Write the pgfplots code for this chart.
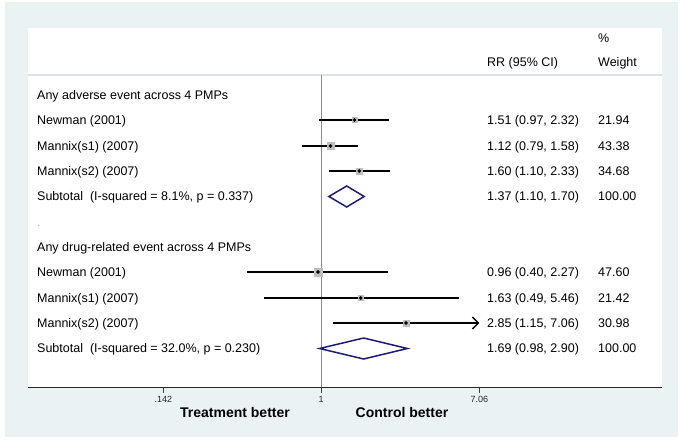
\documentclass[border=0pt]{standalone}
\usepackage{pgfplots}
\pgfplotsset{compat=1.18}
\usepackage{fontspec}
\setmainfont{Liberation Sans}
\usetikzlibrary{arrows.meta}
\definecolor{bgout}{RGB}{234,242,243}
\definecolor{sepc}{RGB}{222,226,228}
\definecolor{diam}{RGB}{25,30,115}
\definecolor{sqc}{RGB}{190,190,190}
\begin{document}
\begin{tikzpicture}
\begin{scope}[x=1bp,y=-1bp,shift={(0bp,445bp)}]
  \fill[white] (0,0) rectangle (685,445);
  \fill[bgout] (5,2) rectangle (678,437);
  \fill[white] (28,28) rectangle (662,387);
  \draw[sepc, line width=1.5bp] (28,75) -- (662,75);
\end{scope}
\begin{axis}[
  at={(28bp,58bp)}, anchor=south west,
  scale only axis, width=634bp, height=359bp,
  xmode=log, xmin=0.02665, xmax=67.56,
  ymin=28, ymax=387, y dir=reverse,
  axis x line*=bottom, axis y line=none,
  x axis line style={-, draw=black!85, line width=0.8bp},
  xtick={0.142,1,7.06}, xticklabels={.142,1,7.06},
  xminorticks=false,
  tick align=outside, major tick length=6bp,
  tick style={black!75, line width=0.8bp},
  xticklabel style={font=\fontsize{9bp}{10bp}\selectfont, text=black!85},
  clip=false,
]
% line of no effect
\addplot[draw=black!45, line width=0.9bp] coordinates {(1,75) (1,387)};
% confidence intervals
\addplot[black, line width=1.6bp] coordinates {(0.97,120) (2.32,120)};
\addplot[black, line width=1.6bp] coordinates {(0.79,146) (1.58,146)};
\addplot[black, line width=1.6bp] coordinates {(1.10,171) (2.33,171)};
\addplot[black, line width=1.6bp] coordinates {(0.40,272) (2.27,272)};
\addplot[black, line width=1.6bp] coordinates {(0.49,298) (5.46,298)};
\addplot[black, line width=1.6bp, -{Straight Barb[length=6bp,width=12bp,line width=1.4bp]}] coordinates {(1.15,323) (7.06,323)};
% weight squares
\addplot[sqc, only marks, mark=square*, mark size=2.6bp] coordinates {(1.51,120)};
\addplot[sqc, only marks, mark=square*, mark size=3.6bp] coordinates {(1.12,146)};
\addplot[sqc, only marks, mark=square*, mark size=3.2bp] coordinates {(1.60,171)};
\addplot[sqc, only marks, mark=square*, mark size=3.8bp] coordinates {(0.96,272)};
\addplot[sqc, only marks, mark=square*, mark size=2.5bp] coordinates {(1.63,298)};
\addplot[sqc, only marks, mark=square*, mark size=3.1bp] coordinates {(2.85,323)};
% point estimates
\addplot[black, only marks, mark=*, mark size=1.6bp] coordinates {(1.51,120) (1.12,146) (1.60,171) (0.96,272) (1.63,298) (2.85,323)};
% pooled diamonds
\addplot[diam, line width=1.5bp, line join=miter] coordinates {(1.10,196.5) (1.37,186) (1.70,196.5) (1.37,207)} -- cycle;
\addplot[diam, line width=1.5bp, line join=miter] coordinates {(0.98,348.5) (1.69,338) (2.90,348.5) (1.69,359)} -- cycle;
\end{axis}
\begin{scope}[x=1bp,y=-1bp,shift={(0bp,445bp)},
  every node/.style={inner sep=0pt, font=\fontsize{12.5bp}{15bp}\selectfont}]
  % header
  \node[anchor=base west] at (598,42.5) {\%};
  \node[anchor=base west] at (487,66.5) {RR (95\% CI)};
  \node[anchor=base west] at (598,66.5) {Weight};
  % group 1
  \node[anchor=base west] at (37,99.7) {Any adverse event across 4 PMPs};
  \node[anchor=base west] at (37,125) {Newman (2001)};
  \node[anchor=base west] at (37,150.4) {Mannix(s1) (2007)};
  \node[anchor=base west] at (37,175.7) {Mannix(s2) (2007)};
  \node[anchor=base west] at (37,201) {Subtotal\ \ (I-squared = 8.1\%, p = 0.337)};
  \node[anchor=base west] at (487,125) {1.51 (0.97, 2.32)};
  \node[anchor=base west] at (487,150.4) {1.12 (0.79, 1.58)};
  \node[anchor=base west] at (487,175.7) {1.60 (1.10, 2.33)};
  \node[anchor=base west] at (487,201) {1.37 (1.10, 1.70)};
  \node[anchor=base west] at (598,125) {21.94};
  \node[anchor=base west] at (598,150.4) {43.38};
  \node[anchor=base west] at (598,175.7) {34.68};
  \node[anchor=base west] at (598,201) {100.00};
  \node[anchor=base west, text=black!30] at (37,226.4) {.};
  % group 2
  \node[anchor=base west] at (37,251.7) {Any drug-related event across 4 PMPs};
  \node[anchor=base west] at (37,277) {Newman (2001)};
  \node[anchor=base west] at (37,302.4) {Mannix(s1) (2007)};
  \node[anchor=base west] at (37,327.7) {Mannix(s2) (2007)};
  \node[anchor=base west] at (37,353) {Subtotal\ \ (I-squared = 32.0\%, p = 0.230)};
  \node[anchor=base west] at (487,277) {0.96 (0.40, 2.27)};
  \node[anchor=base west] at (487,302.4) {1.63 (0.49, 5.46)};
  \node[anchor=base west] at (487,327.7) {2.85 (1.15, 7.06)};
  \node[anchor=base west] at (487,353) {1.69 (0.98, 2.90)};
  \node[anchor=base west] at (598,277) {47.60};
  \node[anchor=base west] at (598,302.4) {21.42};
  \node[anchor=base west] at (598,327.7) {30.98};
  \node[anchor=base west] at (598,353) {100.00};
  % bottom labels
  \node[anchor=base, font=\fontsize{14bp}{16bp}\selectfont\bfseries] at (235,418) {Treatment better};
  \node[anchor=base, font=\fontsize{14bp}{16bp}\selectfont\bfseries] at (402,418) {Control better};
\end{scope}
\end{tikzpicture}
\end{document}
